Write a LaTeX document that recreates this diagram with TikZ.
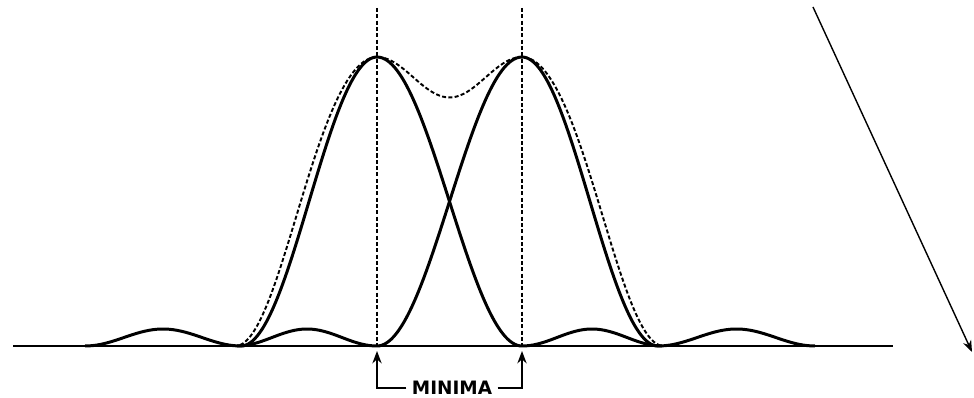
\documentclass[tikz,border=0pt]{standalone}
\usepackage{fontspec}
\newfontfamily\labelfont{DejaVu Sans}
\usetikzlibrary{arrows.meta, positioning, calc}

\tikzset{
  declare function={
    cosq(\u)=(abs(\u)<1)*(cos(90*\u))^2;
    mainL(\x)=289*cosq((\x-377)/(136+9*(\x>377)));
    mainR(\x)=289*cosq((\x-522)/(145-9*(\x>522)));
    dashL(\x)=289*cosq((\x-377)/(142+3*(\x>377)));
    dashR(\x)=289*cosq((\x-522)/(145-3*(\x>522)));
    lobe(\t)=17*(sin(180*\t))^2;
  },
  curve/.style={line width=1.7pt, line join=round},
  guide/.style={line width=1.1pt, dash pattern=on 2.3pt off 1.3pt},
}

\begin{document}
\begin{tikzpicture}[>=Stealth, x=0.02cm, y=-0.02cm]
  \useasboundingbox (0,0) rectangle (974,398);

  % Axis and guide points
  \coordinate (axisL) at (13,346);
  \coordinate (axisR) at (893,346);
  \coordinate (topL) at (377,8);
  \coordinate (topR) at (522,8);
  \coordinate (zeroL) at (377,346);
  \coordinate (zeroR) at (522,346);
  \coordinate (tipL) at (377,351);
  \coordinate (tipR) at (522,351);
  \draw[line width=1.5pt] (axisL) -- (axisR);

  % Peak lines
  \draw[guide] (topL) -- (zeroL);
  \draw[guide] (topR) -- (zeroR);

  % Left pattern
  \draw[curve] plot[domain=85:241, samples=40, smooth] (\x, {346-lobe((241-\x)/156)});
  \draw[curve] plot[domain=241:522, samples=120, smooth] (\x, {346-mainL(\x)});
  \draw[curve] plot[domain=522:662, samples=40, smooth] (\x, {346-lobe((\x-522)/140)});

  % Right pattern
  \draw[curve] plot[domain=237:377, samples=40, smooth] (\x, {346-lobe((377-\x)/140)});
  \draw[curve] plot[domain=377:658, samples=120, smooth] (\x, {346-mainR(\x)});
  \draw[curve] plot[domain=658:815, samples=40, smooth] (\x, {346-lobe((\x-658)/157)});

  % Sum of both
  \draw[guide] plot[domain=240:660, samples=140, smooth]
    (\x, {346-(dashL(\x)*(\x<=522)+dashR(\x)*(\x>=377)
      -0.56*dashL(\x)*dashR(\x)/289
      +lobe((377-\x)/140)*(\x<377)+lobe((\x-522)/140)*(\x>522))});

  % Minima label
  \node[font=\labelfont\bfseries\fontsize{10.5}{11}\selectfont, inner sep=3pt] (minima) at (452,388) {MINIMA};
  \draw[->, line width=0.9pt] (minima.west) -| (tipL);
  \draw[->, line width=0.9pt] (minima.east) -| (tipR);

  % Long pointer
  \coordinate (ptrA) at (813,7);
  \coordinate (ptrB) at (972,352);
  \draw[->, line width=0.8pt] (ptrA) -- (ptrB);
\end{tikzpicture}
\end{document}
